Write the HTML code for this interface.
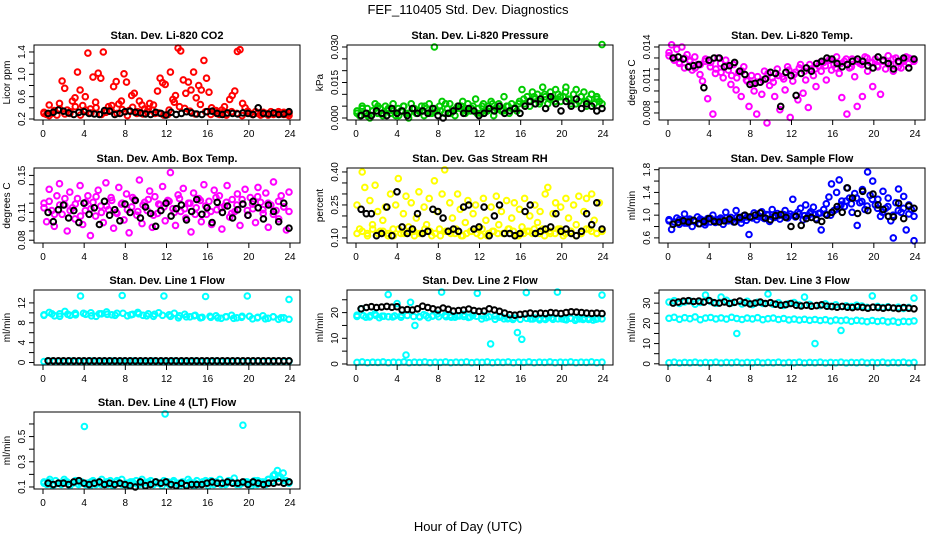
<!DOCTYPE html>
<html><head><meta charset="utf-8"><style>
html,body{margin:0;padding:0;background:#fff}
svg{display:block;font-family:"Liberation Sans",Arial,sans-serif}
</style></head><body>
<svg id="c" width="936" height="540" viewBox="0 0 936 540">
<text x="468" y="14" text-anchor="middle" font-size="13">FEF_110405  Std. Dev. Diagnostics</text>
<text x="468" y="531" text-anchor="middle" font-size="13">Hour of Day (UTC)</text>
</svg>
<script>
const xTicks=[0,4,8,12,16,20,24];
const co2Main=[0.32,0.28,0.45,0.30,0.35,0.27,0.48,0.88,0.75,0.36,0.30,0.52,0.58,1.04,0.72,0.44,0.60,1.38,0.38,0.95,0.50,1.02,0.93,1.40,0.32,0.42,0.36,0.78,0.87,0.47,0.52,1.01,0.86,0.35,0.62,0.66,0.30,0.52,0.45,0.38,0.33,0.48,0.36,0.30,0.70,0.93,0.85,0.82,0.28,1.04,0.55,0.62,1.47,1.42,0.90,0.66,0.86,0.72,1.04,0.58,0.80,0.72,1.25,0.93,0.68,0.40,0.35,0.30,0.28,0.36,0.42,0.30,0.55,0.62,0.70,1.41,1.44,0.48,0.40,0.34,0.30,0.28,0.33,0.30,0.27,0.32,0.30,0.29,0.33,0.28,0.31,0.30,0.29,0.32,0.28,0.30];
const co2Base=[0.30,0.26,0.34,0.38,0.29,0.33,0.42,0.27,0.36,0.31,0.40,0.28,0.35,0.44,0.30,0.37,0.26,0.41,0.33,0.29,0.38,0.45,0.31,0.27,0.36,0.50,0.42,0.39,0.34,0.29,0.46,0.33,0.28,0.35,0.31,0.27,0.33,0.30,0.26,0.32,0.28,0.31,0.29,0.27,0.30,0.33,0.28,0.26];
const co2Black=[0.30,0.32,0.36,0.34,0.31,0.28,0.32,0.33,0.30,0.29,0.28,0.35,0.34,0.28,0.30,0.33,0.34,0.32,0.31,0.29,0.28,0.32,0.30,0.27,0.32,0.28,0.30,0.33,0.31,0.29,0.28,0.33,0.34,0.30,0.28,0.31,0.30,0.29,0.31,0.30,0.28,0.40,0.30,0.29,0.31,0.28,0.29,0.33];
const presMain=[0.003,0.001,0.005,0.002,0.004,0.000,0.003,0.006,0.002,0.004,0.001,0.005,0.003,0.002,0.006,0.001,0.004,0.003,0.005,0.002,0.000,0.006,0.004,0.002,0.003,0.005,0.001,0.004,0.006,0.002,0.030,0.003,0.005,0.007,0.002,0.004,0.006,0.003,0.001,0.005,0.004,0.007,0.002,0.006,0.003,0.005,0.008,0.004,0.002,0.006,0.003,0.005,0.007,0.001,0.004,0.006,0.003,0.009,0.005,0.002,0.006,0.004,0.003,0.007,0.012,0.006,0.009,0.005,0.011,0.008,0.010,0.007,0.013,0.009,0.006,0.011,0.008,0.012,0.010,0.007,0.009,0.013,0.008,0.006,0.010,0.012,0.007,0.009,0.011,0.005,0.008,0.010,0.006,0.009,0.007,0.031];
const presBase=[0.002,0.004,0.001,0.003,0.005,0.002,0.004,0.003,0.001,0.005,0.002,0.004,0.003,0.005,0.002,0.004,0.003,0.006,0.002,0.004,0.005,0.003,0.004,0.002,0.005,0.003,0.006,0.004,0.003,0.005,0.004,0.006,0.008,0.007,0.009,0.006,0.010,0.008,0.007,0.009,0.011,0.008,0.006,0.009,0.007,0.010,0.008,0.006];
const presBlack=[0.001,0.002,0.001,0.003,0.002,0.001,0.004,0.002,0.003,0.001,0.004,0.002,0.003,0.002,0.004,0.001,0.000,0.002,0.003,0.005,0.002,0.004,0.003,0.001,0.002,0.004,0.003,0.005,0.002,0.003,0.004,0.002,0.005,0.007,0.006,0.008,0.004,0.009,0.006,0.003,0.007,0.005,0.008,0.004,0.006,0.005,0.003,0.004];
const tempMain=[0.0135,0.0142,0.0130,0.0138,0.0126,0.0140,0.0121,0.0133,0.0128,0.0119,0.0131,0.0124,0.0115,0.0109,0.0127,0.0093,0.0122,0.0079,0.0116,0.0130,0.0125,0.0112,0.0128,0.0119,0.0106,0.0124,0.0101,0.0117,0.0095,0.0122,0.0110,0.0086,0.0114,0.0100,0.0079,0.0108,0.0097,0.0118,0.0071,0.0105,0.0112,0.0095,0.0120,0.0083,0.0113,0.0101,0.0122,0.0076,0.0109,0.0117,0.0092,0.0124,0.0098,0.0110,0.0085,0.0120,0.0114,0.0104,0.0123,0.0118,0.0126,0.0110,0.0128,0.0119,0.0124,0.0131,0.0116,0.0094,0.0127,0.0079,0.0121,0.0129,0.0113,0.0086,0.0125,0.0095,0.0131,0.0118,0.0126,0.0104,0.0129,0.0122,0.0097,0.0127,0.0120,0.0132,0.0124,0.0118,0.0130,0.0126,0.0121,0.0128,0.0131,0.0125,0.0129,0.0127];
const tempBase=[0.0132,0.0128,0.0125,0.0130,0.0127,0.0121,0.0124,0.0129,0.0126,0.0120,0.0117,0.0123,0.0114,0.0112,0.0118,0.0109,0.0107,0.0113,0.0110,0.0116,0.0108,0.0114,0.0111,0.0119,0.0115,0.0121,0.0118,0.0124,0.0120,0.0126,0.0123,0.0128,0.0121,0.0125,0.0129,0.0122,0.0127,0.0124,0.0130,0.0126,0.0123,0.0128,0.0125,0.0129,0.0122,0.0127,0.0130,0.0128];
const tempBlack=[0.0130,0.0131,0.0129,0.0122,0.0123,0.0124,0.0103,0.0128,0.0130,0.0130,0.0122,0.0123,0.0126,0.0118,0.0115,0.0106,0.0107,0.0108,0.0111,0.0117,0.0116,0.0086,0.0117,0.0114,0.0096,0.0116,0.0121,0.0118,0.0125,0.0127,0.0130,0.0129,0.0125,0.0122,0.0124,0.0127,0.0129,0.0127,0.0123,0.0121,0.0131,0.0128,0.0125,0.0120,0.0127,0.0130,0.0121,0.0129];
const boxMain=[0.120,0.100,0.135,0.112,0.095,0.128,0.141,0.108,0.118,0.090,0.132,0.115,0.103,0.125,0.139,0.097,0.112,0.128,0.085,0.121,0.106,0.134,0.117,0.099,0.142,0.113,0.126,0.093,0.110,0.137,0.119,0.102,0.130,0.088,0.116,0.124,0.107,0.145,0.098,0.121,0.112,0.133,0.094,0.127,0.109,0.118,0.138,0.101,0.123,0.153,0.114,0.096,0.129,0.111,0.136,0.104,0.120,0.089,0.131,0.115,0.125,0.100,0.140,0.108,0.122,0.097,0.134,0.113,0.128,0.092,0.117,0.139,0.105,0.124,0.111,0.130,0.096,0.119,0.135,0.107,0.126,0.114,0.099,0.137,0.121,0.109,0.131,0.094,0.118,0.143,0.112,0.103,0.128,0.116,0.091,0.132];
const boxBase=[0.115,0.122,0.108,0.118,0.125,0.112,0.119,0.106,0.121,0.114,0.127,0.110,0.117,0.123,0.109,0.120,0.113,0.126,0.111,0.118,0.124,0.107,0.119,0.116,0.122,0.110,0.125,0.114,0.120,0.108,0.123,0.117,0.111,0.126,0.115,0.121,0.109,0.118,0.124,0.112,0.119,0.127,0.113,0.120,0.108,0.122,0.116,0.111];
const boxBlack=[0.110,0.100,0.113,0.118,0.104,0.112,0.099,0.120,0.108,0.115,0.097,0.122,0.107,0.113,0.101,0.119,0.110,0.123,0.104,0.116,0.109,0.095,0.112,0.120,0.106,0.114,0.118,0.102,0.111,0.124,0.108,0.115,0.099,0.121,0.110,0.117,0.104,0.113,0.119,0.107,0.122,0.115,0.103,0.118,0.111,0.100,0.120,0.093];
const rhMain=[0.25,0.14,0.40,0.33,0.12,0.27,0.16,0.34,0.22,0.13,0.18,0.24,0.11,0.30,0.14,0.25,0.37,0.12,0.21,0.29,0.15,0.26,0.13,0.19,0.31,0.12,0.24,0.16,0.28,0.11,0.36,0.22,0.14,0.30,0.41,0.13,0.26,0.19,0.12,0.30,0.23,0.11,0.17,0.27,0.13,0.21,0.25,0.14,0.11,0.28,0.18,0.12,0.24,0.13,0.29,0.16,0.22,0.12,0.27,0.14,0.19,0.26,0.11,0.23,0.15,0.28,0.13,0.20,0.12,0.25,0.17,0.22,0.14,0.30,0.33,0.12,0.21,0.26,0.14,0.24,0.11,0.28,0.19,0.13,0.25,0.16,0.29,0.12,0.22,0.28,0.14,0.30,0.18,0.12,0.26,0.13];
const rhBase=[0.12,0.13,0.11,0.14,0.12,0.13,0.12,0.11,0.14,0.12,0.13,0.11,0.12,0.14,0.13,0.12,0.11,0.13,0.12,0.14,0.11,0.12,0.13,0.12,0.14,0.11,0.13,0.12,0.12,0.14,0.13,0.11,0.12,0.13,0.14,0.12,0.11,0.13,0.12,0.14,0.12,0.13,0.11,0.12,0.14,0.13,0.12,0.13];
const rhBlack=[0.23,0.21,0.21,0.11,0.12,0.24,0.11,0.31,0.15,0.12,0.14,0.21,0.12,0.13,0.23,0.22,0.19,0.13,0.14,0.13,0.24,0.25,0.14,0.15,0.24,0.11,0.20,0.25,0.12,0.12,0.11,0.12,0.22,0.25,0.12,0.13,0.14,0.15,0.21,0.13,0.14,0.12,0.11,0.13,0.21,0.16,0.26,0.14];
const flowMain=[0.92,0.75,0.88,0.95,0.84,0.90,1.02,0.86,0.93,0.80,0.89,0.97,0.85,0.91,0.83,0.94,0.88,1.00,0.87,0.92,0.95,0.84,1.05,0.90,0.96,0.88,1.08,0.93,0.86,0.99,0.91,0.66,0.97,1.04,0.92,0.98,1.06,0.94,1.01,0.89,1.10,0.96,1.03,0.93,1.00,1.08,0.95,1.02,1.28,0.97,1.05,1.12,0.92,1.18,0.99,1.06,1.14,0.94,1.03,0.74,1.10,1.20,1.32,1.55,1.08,1.40,1.62,1.25,1.15,1.48,1.30,1.05,1.38,0.82,1.22,1.45,1.10,1.76,1.35,1.60,1.18,1.28,0.98,1.42,1.12,1.30,0.90,0.60,1.22,1.46,1.05,1.33,0.74,1.18,1.10,0.55];
const flowBase=[0.90,0.88,0.92,0.86,0.91,0.89,0.93,0.87,0.94,0.90,0.92,0.95,0.91,0.96,0.93,0.97,0.95,0.98,0.96,1.00,0.97,0.99,1.01,0.98,1.00,1.02,0.99,1.03,1.01,1.04,1.02,1.00,1.10,1.18,1.25,1.20,1.30,1.24,1.16,1.28,1.12,1.05,1.15,1.00,1.08,1.12,1.02,0.98];
const flowBlack=[0.84,0.87,0.90,0.88,0.91,0.85,0.89,0.94,0.89,0.88,0.90,0.93,0.88,0.96,1.00,0.97,1.00,1.04,0.95,0.92,0.99,1.01,0.96,0.80,0.98,0.82,0.94,0.96,0.92,0.89,1.00,1.05,1.15,1.05,1.48,1.30,1.03,1.42,1.08,1.37,1.18,1.10,0.98,0.97,1.21,0.94,1.16,1.12];
const l1Main=[9.6,10.1,9.4,9.8,10.3,9.5,9.9,13.4,9.7,10.0,9.3,9.8,10.2,9.6,9.9,13.5,9.4,9.7,10.1,9.5,9.8,9.3,10.0,13.4,9.6,9.9,9.4,9.7,9.2,9.5,9.0,13.3,9.1,9.4,8.9,9.2,9.5,9.0,9.3,13.4,8.8,9.1,9.4,8.9,9.2,8.7,9.0,12.7];
const l1Base=[9.5,9.8,9.3,9.7,9.6,9.9,9.4,9.8,9.7,9.5,9.9,9.6,9.8,9.4,9.7,9.5,9.3,9.0,9.2,9.4,9.1,9.3,9.0,9.2,8.9,9.1,9.3,9.0,8.8,9.2,9.0,8.7];
const l1Zero=[0.2,0.3,0.2,0.25,0.2,0.3,0.2,0.25,0.2,0.3,0.2,0.25,0.2,0.3,0.2,0.25,0.2,0.3,0.2,0.25,0.2,0.3,0.2,0.25,0.2,0.3,0.2,0.25,0.2,0.3,0.2,0.25,0.2,0.3,0.2,0.25,0.2,0.3,0.2,0.25,0.2,0.3,0.2,0.25,0.2,0.3,0.2,0.25];
const l1Black=[0.35,0.35,0.35,0.35,0.35,0.35,0.35,0.35,0.35,0.35,0.35,0.35,0.35,0.35,0.35,0.35,0.35,0.35,0.35,0.35,0.35,0.35,0.35,0.35,0.35,0.35,0.35,0.35,0.35,0.35,0.35,0.35,0.35,0.35,0.35,0.35,0.35,0.35,0.35,0.35,0.35,0.35,0.35,0.35,0.35,0.35,0.35,0.35];
const l2Main=[19.0,21.5,18.2,18.8,19.5,18.0,18.6,27.0,18.3,23.5,19.0,3.5,24.0,15.0,18.5,19.2,18.0,18.8,19.4,28.0,18.4,19.0,18.2,18.7,19.3,18.1,18.9,27.5,17.5,18.0,7.8,17.4,18.2,17.6,17.9,17.3,12.2,9.6,27.8,17.5,17.9,17.2,17.7,18.1,17.4,28.0,17.6,17.2,17.8,17.0,17.5,17.9,17.3,17.1,17.6,26.8];
const l2Base=[18.5,18.8,18.3,18.9,18.6,18.4,18.7,18.2,18.9,18.5,18.3,18.8,18.6,18.4,18.9,18.2,18.7,18.5,18.3,18.6,18.8,18.4,18.7,18.5,17.6,17.9,17.4,17.8,17.5,17.7,17.3,17.9,17.6,17.4,17.8,17.5,17.3,17.7,17.4,17.6];
const l2Zero=[0.6,0.8,0.5,0.7,0.6,0.8,0.5,0.7,0.6,0.8,0.5,0.7,0.6,0.8,0.5,0.7,0.6,0.8,0.5,0.7,0.6,0.8,0.5,0.7,0.6,0.8,0.5,0.7,0.6,0.8,0.5,0.7,0.6,0.8,0.5,0.7,0.6,0.8,0.5,0.7,0.6,0.8,0.5,0.7,0.6,0.8,0.5,0.7];
const l2Black=[21.5,22.0,22.3,22.0,22.2,22.4,22.1,22.3,21.0,21.2,21.0,21.5,22.5,22.0,21.5,21.0,21.8,21.3,20.6,20.8,21.0,21.4,20.8,20.5,20.6,21.5,21.0,20.5,19.8,19.2,19.0,19.3,19.5,19.8,19.5,19.8,19.6,20.0,19.8,19.6,20.0,20.3,20.2,20.0,19.8,19.7,19.8,19.6];
const l3Main=[30.5,31.2,29.8,30.6,31.0,29.5,30.3,34.0,30.8,29.9,33.0,31.4,30.1,15.0,29.6,30.9,29.3,30.4,29.8,34.5,29.5,30.2,28.9,29.7,30.3,29.1,33.0,29.4,10.0,28.8,29.6,28.5,29.2,16.5,28.7,28.3,29.0,28.6,27.9,33.6,28.4,27.8,28.2,27.6,28.0,27.4,27.9,32.5];
const l3Low=[22.5,23.0,22.0,22.8,22.3,23.2,21.8,22.6,22.9,22.2,22.7,22.1,23.0,22.4,21.9,22.6,22.2,22.8,21.8,22.3,22.6,21.9,22.4,21.7,22.1,21.6,22.0,21.5,21.9,21.4,21.8,21.2,21.7,21.3,21.6,21.0,21.5,21.2,20.8,21.4,20.9,21.3,20.7,21.1,20.5,21.0,20.8,21.2];
const l3Zero=[0.5,0.8,0.4,0.7,0.5,0.8,0.4,0.7,0.5,0.8,0.4,0.7,0.5,0.8,0.4,0.7,0.5,0.8,0.4,0.7,0.5,0.8,0.4,0.7,0.5,0.8,0.4,0.7,0.5,0.8,0.4,0.7,0.5,0.8,0.4,0.7,0.5,0.8,0.4,0.7,0.5,0.8,0.4,0.7,0.5,0.8,0.4,0.7];
const l3Black=[30.0,30.5,31.0,31.2,30.8,31.0,30.5,31.3,30.2,30.0,30.6,29.8,30.4,31.0,30.2,29.6,30.0,30.5,29.8,30.2,29.5,29.0,29.3,29.8,29.0,28.6,29.0,28.5,28.8,29.2,28.5,28.3,28.0,28.4,28.0,27.8,28.2,27.9,27.5,28.0,27.8,27.5,27.9,27.6,27.3,27.8,27.5,27.2];
const l4Main=[0.14,0.12,0.16,0.11,0.15,0.13,0.12,0.16,0.14,0.11,0.13,0.15,0.12,0.14,0.58,0.13,0.11,0.15,0.12,0.14,0.16,0.13,0.12,0.15,0.11,0.14,0.13,0.16,0.12,0.11,0.14,0.13,0.15,0.12,0.16,0.11,0.13,0.15,0.12,0.14,0.13,0.11,0.68,0.14,0.12,0.15,0.13,0.11,0.14,0.12,0.16,0.13,0.11,0.15,0.12,0.14,0.13,0.11,0.15,0.12,0.14,0.16,0.13,0.12,0.15,0.14,0.17,0.13,0.12,0.59,0.14,0.13,0.11,0.15,0.12,0.14,0.13,0.12,0.16,0.14,0.20,0.23,0.18,0.21,0.15,0.13];
const l4Base=[0.13,0.14,0.12,0.13,0.14,0.12,0.15,0.13,0.12,0.14,0.13,0.12,0.14,0.13,0.15,0.12,0.13,0.14,0.12,0.13,0.14,0.12,0.13,0.15,0.12,0.14,0.13,0.12,0.14,0.13,0.12,0.15,0.13,0.14,0.12,0.13,0.14,0.12,0.13,0.14,0.13,0.15,0.14,0.16,0.19,0.17,0.15,0.14];
const l4Black=[0.13,0.12,0.13,0.13,0.12,0.14,0.15,0.13,0.12,0.13,0.14,0.12,0.13,0.12,0.13,0.12,0.11,0.10,0.14,0.11,0.12,0.14,0.13,0.14,0.12,0.11,0.13,0.11,0.12,0.12,0.12,0.13,0.14,0.13,0.13,0.14,0.13,0.13,0.14,0.12,0.14,0.13,0.12,0.13,0.13,0.14,0.13,0.14];

const cols=[34,347,659], colW=266;
const rows=[[45,120],[168,243],[290,365],[412,489]];
const CY='#00ffff';
const panels=[
 {name:'co2',title:'Stan. Dev. Li-820 CO2',yl:'Licor ppm',c:0,r:0,lo:0.182,hi:1.525,ticks:[0.2,0.4,0.6,0.8,1.0,1.2,1.4],labels:['0.2','0.6','1.0','1.4'],color:'#ff0000',series:[co2Base,co2Main],black:co2Black},
 {name:'pressure',title:'Stan. Dev. Li-820 Pressure',yl:'kPa',c:1,r:0,lo:-0.00085,hi:0.03085,ticks:[0,0.005,0.01,0.015,0.02,0.025,0.03],labels:['0.000','0.015','0.030'],color:'#00cc00',series:[presBase,presMain],black:presBlack},
 {name:'temp',title:'Stan. Dev. Li-820 Temp.',yl:'degrees C',c:2,r:0,lo:0.00736,hi:0.01418,ticks:[0.008,0.009,0.010,0.011,0.012,0.013,0.014],labels:['0.008','0.011','0.014'],color:'#ff00ff',series:[tempBase,tempMain],black:tempBlack},
 {name:'amb-box-temp',title:'Stan. Dev. Amb. Box Temp.',yl:'degrees C',c:0,r:1,lo:0.077,hi:0.158,ticks:[0.08,0.09,0.10,0.11,0.12,0.13,0.14,0.15],labels:['0.08','0.11','0.15'],color:'#ff00ff',series:[boxBase,boxMain],black:boxBlack},
 {name:'gas-rh',title:'Stan. Dev. Gas Stream RH',yl:'percent',c:1,r:1,lo:0.077,hi:0.418,ticks:[0.10,0.15,0.20,0.25,0.30,0.35,0.40],labels:['0.10','0.25','0.40'],color:'#ffff00',series:[rhBase,rhMain],black:rhBlack},
 {name:'sample-flow',title:'Stan. Dev. Sample Flow',yl:'ml/min',c:2,r:1,lo:0.51,hi:1.83,ticks:[0.6,0.8,1.0,1.2,1.4,1.6,1.8],labels:['0.6','1.0','1.4','1.8'],color:'#0000ff',series:[flowBase,flowMain],black:flowBlack},
 {name:'line1-flow',title:'Stan. Dev. Line 1 Flow',yl:'ml/min',c:0,r:2,lo:-0.5,hi:14.6,ticks:[0,2,4,6,8,10,12],labels:['0','4','8','12'],color:CY,series:[l1Zero,l1Base,l1Main],black:l1Black},
 {name:'line2-flow',title:'Stan. Dev. Line 2 Flow',yl:'ml/min',c:1,r:2,lo:-0.4,hi:28.8,ticks:[0,5,10,15,20,25],labels:['0','10','20'],color:CY,series:[l2Zero,l2Base,l2Main],black:l2Black},
 {name:'line3-flow',title:'Stan. Dev. Line 3 Flow',yl:'ml/min',c:2,r:2,lo:-0.6,hi:36.5,ticks:[0,5,10,15,20,25,30,35],labels:['0','10','20','30'],color:CY,series:[l3Zero,l3Low,l3Main],black:l3Black},
 {name:'line4-flow',title:'Stan. Dev. Line 4 (LT) Flow',yl:'ml/min',c:0,r:3,lo:0.084,hi:0.695,ticks:[0.1,0.2,0.3,0.4,0.5,0.6],labels:['0.1','0.3','0.5'],color:CY,series:[l4Base,l4Main],black:l4Black}
];
const svg=document.getElementById('c');
const NS='http://www.w3.org/2000/svg';
function mk(tag,attrs,parent){const e=document.createElementNS(NS,tag);for(const k in attrs)e.setAttribute(k,attrs[k]);(parent||svg).appendChild(e);return e;}
panels.forEach(p=>{
 const L=cols[p.c],R=L+colW,T=rows[p.r][0],B=rows[p.r][1];
 const x0=L+9,x1=x0+247;
 const X=h=>x0+(x1-x0)*h/24;
 const Y=v=>B-(v-p.lo)/(p.hi-p.lo)*(B-T);
 const g=mk('g',{});
 
 
 const t=mk('text',{x:(L+R)/2,y:T-6,'text-anchor':'middle','font-size':11,'font-weight':'bold'},g);
 t.textContent=p.title;
 
 
 const pts=mk('g',{fill:'none','stroke-width':2},g);
 
 
 p.series.forEach(arr=>{
  const n=arr.length;
  arr.forEach((v,i)=>{
   const h=0.1+23.8*i/(n-1);
   const cc=mk('circle',{cx:X(h).toFixed(1),cy:Y(v).toFixed(1),r:2.8,stroke:p.color},pts);
   
   
  });
 });
 const bn=p.black.length;
 p.black.forEach((v,i)=>{
  const h=0.5+23.4*i/(bn-1);
  const cc=mk('circle',{cx:X(h).toFixed(1),cy:Y(v).toFixed(1),r:2.8,stroke:'#000'},pts);
  
  
 });
 const box=mk('rect',{x:L,y:T,width:R-L,height:B-T,fill:'none',stroke:'#000','stroke-width':1},g);
 
 
 xTicks.forEach(h=>{
  mk('line',{x1:X(h),x2:X(h),y1:B,y2:B+5,stroke:'#000'},g);
  const tx=mk('text',{x:X(h),y:B+17,'text-anchor':'middle','font-size':10},g);
  tx.textContent=h;
  
  
 });
 p.ticks.forEach(v=>{
  mk('line',{x1:L,x2:L-5,y1:Y(v),y2:Y(v),stroke:'#000'},g);
 });
 p.labels.forEach(s=>{
  const v=parseFloat(s);
  const ty=mk('text',{x:0,y:0,'text-anchor':'middle','font-size':10,transform:`translate(${L-9},${Y(v)}) rotate(-90)`},g);
  ty.textContent=s;
  
  
 });
 const yl=mk('text',{x:0,y:0,'text-anchor':'middle','font-size':10,transform:`translate(${L-24},${(T+B)/2}) rotate(-90)`},g);
 yl.textContent=p.yl;
 
 
});
</script>
</body></html>
